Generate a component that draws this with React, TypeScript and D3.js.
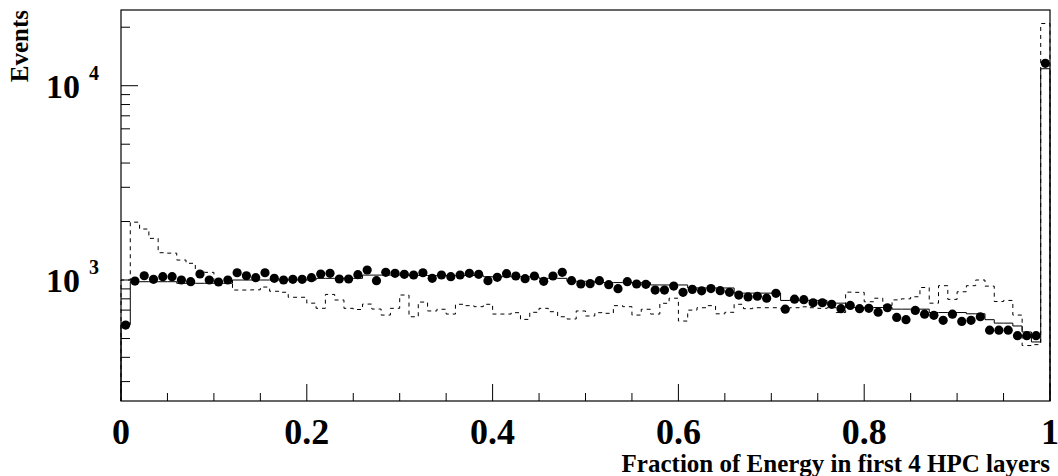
import React from "react";
import * as d3 from "d3";

// 100 bins of 0.01 on [0,1]
const binLow = d3.range(100).map((i) => i / 100);

// data (points)
const dataCounts = [
  586, 988, 1052, 1008, 1040, 1040, 1000, 980, 1074, 1000,
  977, 1000, 1090, 1052, 1028, 1090, 1020, 1000, 1008, 1008,
  1028, 1074, 1082, 1012, 1012, 1065, 1126, 992, 1095, 1082,
  1070, 1061, 1090, 1020, 1061, 1040, 1061, 1082, 1070, 992,
  1032, 1078, 1049, 1016, 1049, 985, 1049, 1095, 992, 954,
  958, 992, 946, 902, 980, 954, 950, 888, 888, 931,
  864, 895, 880, 904, 881, 864, 837, 818, 825, 806,
  854, 708, 797, 792, 764, 764, 750, 712, 740, 712,
  715, 683, 720, 642, 625, 697, 667, 658, 620, 667,
  612, 620, 647, 552, 552, 552, 517, 517, 517, 13040,
];

// solid histogram
const solidCounts = [
  590, 980, 980, 980, 980, 980, 962, 962, 962, 962,
  962, 962, 1000, 1000, 1000, 1000, 1000, 1000, 1000, 1000,
  1000, 1020, 1020, 1020, 1020, 1020, 1060, 1060, 1060, 1060,
  1060, 1055, 1055, 1055, 1055, 1055, 1055, 1055, 1055, 1040,
  1040, 1040, 1040, 1040, 1040, 1020, 1020, 1020, 985, 985,
  985, 970, 970, 970, 970, 970, 970, 943, 943, 943,
  943, 910, 910, 910, 910, 910, 856, 856, 856, 856,
  856, 785, 785, 785, 785, 785, 760, 760, 722, 722,
  722, 722, 722, 708, 708, 708, 708, 680, 680, 680,
  680, 670, 670, 625, 600, 600, 580, 540, 480, 12230,
];

// dashed histogram
const dashedCounts = [
  1000, 1985, 1830, 1638, 1382, 1375, 1267, 1219, 1104, 1095,
  970, 965, 888, 888, 890, 920, 875, 865, 815, 815,
  760, 715, 843, 789, 715, 705, 752, 709, 660, 715,
  837, 647, 770, 693, 707, 668, 750, 738, 729, 750,
  668, 668, 679, 627, 682, 715, 687, 647, 630, 693,
  653, 679, 674, 738, 729, 660, 707, 668, 759, 806,
  615, 700, 720, 738, 670, 682, 750, 712, 720, 720,
  720, 715, 720, 728, 720, 715, 720, 680, 866, 864,
  773, 806, 740, 790, 800, 820, 915, 760, 935, 795,
  870, 935, 1000, 930, 775, 785, 660, 460, 465, 20900,
];

const W = 1058;
const H = 476;
const left = 121, right = 1050, top = 10, bottom = 401;
const font = "'Liberation Serif', 'Times New Roman', serif";

const x = d3.scaleLinear().domain([0, 1]).range([left, right]);
const y = d3.scaleLog().domain([238.4, 24530]).range([bottom, top]);

function stepPath(counts: number[]) {
  const pts: [number, number][] = [[x(0), y.range()[0]]];
  counts.forEach((c, i) => {
    pts.push([x(binLow[i]), y(c)]);
    pts.push([x(binLow[i] + 0.01), y(c)]);
  });
  pts.push([x(1), y.range()[0]]);
  return d3.line()(pts) as string;
}

export default function App() {
  const yTicks = y.ticks();
  const xTicks = x.ticks(20);
  const xLabels = x.ticks(5);
  const decades = yTicks.filter((t) => Math.abs(Math.log10(t) % 1) < 1e-9);

  return (
    <svg width={W} height={H} style={{ position: "absolute", left: 0, top: 0, background: "#fff" }}>
      <rect x={0} y={0} width={W} height={H} fill="#fff" />
      {/* histograms */}
      <path d={stepPath(dashedCounts)} fill="none" stroke="#000" strokeWidth={1} strokeDasharray="4,4" />
      <path d={stepPath(solidCounts)} fill="none" stroke="#000" strokeWidth={1} />
      {dataCounts.map((c, i) => (
        <circle key={i} cx={x(binLow[i] + 0.005)} cy={y(c)} r={4.6} fill="#000" />
      ))}

      {/* frame */}
      <rect x={left} y={top} width={right - left} height={bottom - top} fill="none" stroke="#000" strokeWidth={1.2} />

      {/* y ticks */}
      {yTicks.map((t) => {
        const major = decades.includes(t);
        return (
          <line key={"y" + t} x1={left} x2={left + (major ? 17 : 9)} y1={y(t)} y2={y(t)} stroke="#000" strokeWidth={1} />
        );
      })}
      {decades.map((t) => (
        <g key={"yl" + t} fontFamily={font} fontWeight="bold">
          <text x={80} y={y(t) + 12} fontSize={34} textAnchor="end">10</text>
          <text x={89} y={y(t) - 6} fontSize={20}>{Math.round(Math.log10(t))}</text>
        </g>
      ))}

      {/* x ticks */}
      {xTicks.map((t) => {
        const major = Math.round(t * 100) % 20 === 0;
        return (
          <line key={"x" + t} x1={x(t)} x2={x(t)} y1={bottom} y2={bottom - (major ? 17 : 8)} stroke="#000" strokeWidth={1} />
        );
      })}
      {xLabels.map((t) => (
        <text key={"xl" + t} x={x(t)} y={444} fontSize={36} fontFamily={font} fontWeight="bold" textAnchor="middle">
          {d3.format("")(t)}
        </text>
      ))}

      {/* axis titles */}
      <text x={right} y={472} fontSize={25} fontFamily={font} fontWeight="bold" textAnchor="end">
        Fraction of Energy in first 4 HPC layers
      </text>
      <text transform={`translate(28, ${top}) rotate(-90)`} fontSize={25} fontFamily={font} fontWeight="bold" textAnchor="end">
        Events
      </text>
    </svg>
  );
}
